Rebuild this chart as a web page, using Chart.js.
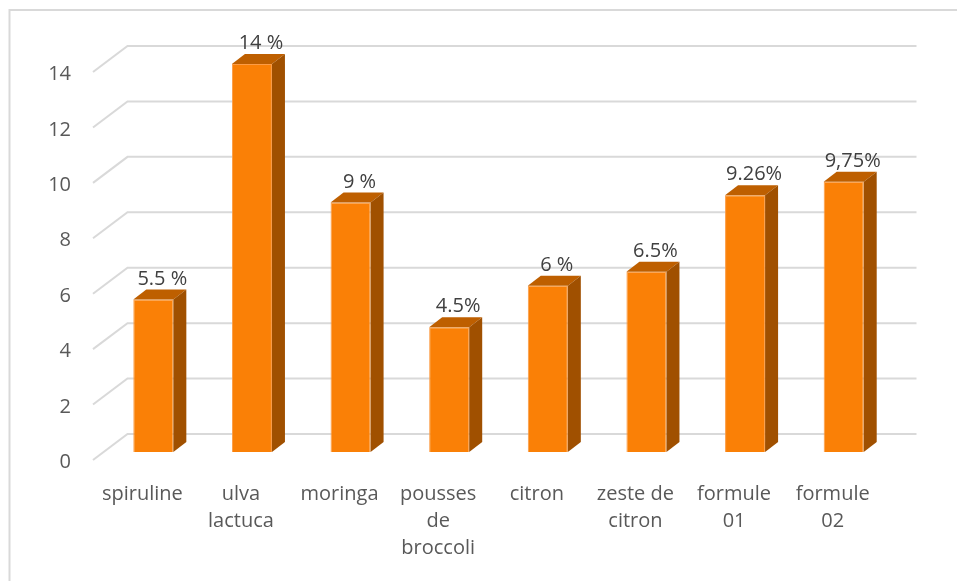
<!DOCTYPE html>
<html>
<head>
<meta charset="utf-8">
<script src="https://cdn.jsdelivr.net/npm/chart.js@4/dist/chart.umd.min.js"></script>
<style>
  html, body { margin: 0; padding: 0; background: #ffffff; }
  #wrap { width: 957px; height: 581px; position: relative; }
</style>
</head>
<body>
<div id="wrap"><canvas id="c" width="957" height="581"></canvas></div>
<script>
// Categories (multi-line labels), values and the value captions shown above each bar
const categories = [
  'spiruline',
  ['ulva', 'lactuca'],
  'moringa',
  ['pousses', 'de', 'broccoli'],
  'citron',
  ['zeste de', 'citron'],
  ['formule', '01'],
  ['formule', '02']
];
const values = [5.5, 14, 9, 4.5, 6, 6.5, 9.26, 9.75];
const valueLabels = ['5.5 %', '14 %', '9 %', '4.5%', '6 %', '6.5%', '9.26%', '9,75%'];
const yMin = 0;
const yMax = 14;
const yStep = 2;

// Pseudo-3D geometry, relative to the bars' front plane
const FRONT = { dx: -11, dy: 8 };      // front edge of the floor (axis labels plane)
const BACK = { dx: 23.5, dy: -18 };    // back wall (gridlines)
const DEPTH = { dx: 13, dy: -10 };     // bar depth

const COLORS = {
  front: '#FA8006',
  top: '#BE5F00',
  side: '#A05000',
  grid: '#D9D9D9',
  tick: '#595959',
  value: '#404040',
  frame: '#D9D9D9'
};
const FONT = "'Open Sans', 'Noto Sans', sans-serif";

const frame3d = {
  id: 'frame3d',
  beforeDraw(chart) {
    const ctx = chart.ctx;
    ctx.save();
    ctx.fillStyle = '#ffffff';
    ctx.fillRect(0, 0, chart.width, chart.height);
    ctx.strokeStyle = COLORS.frame;
    ctx.lineWidth = 2;
    ctx.strokeRect(9.5, 10, chart.width + 20, chart.height + 20);
    ctx.restore();
  },
  beforeDatasetsDraw(chart) {
    const { ctx, chartArea } = chart;
    const y = chart.scales.y;
    ctx.save();
    ctx.strokeStyle = COLORS.grid;
    ctx.lineWidth = 2;
    y.ticks.forEach(t => {
      const py = y.getPixelForValue(t.value);
      ctx.beginPath();
      ctx.moveTo(chartArea.left + FRONT.dx, py + FRONT.dy);
      ctx.lineTo(chartArea.left + BACK.dx, py + BACK.dy);
      ctx.lineTo(chartArea.right + BACK.dx, py + BACK.dy);
      ctx.stroke();
    });
    ctx.restore();
  },
  afterDatasetsDraw(chart) {
    const ctx = chart.ctx;
    const meta = chart.getDatasetMeta(0);
    ctx.save();
    meta.data.forEach((bar, i) => {
      const p = bar.getProps(['x', 'y', 'base', 'width'], true);
      const l = p.x - p.width / 2;
      const r = p.x + p.width / 2;
      // top face
      ctx.fillStyle = COLORS.top;
      ctx.beginPath();
      ctx.moveTo(l, p.y);
      ctx.lineTo(r, p.y);
      ctx.lineTo(r + DEPTH.dx, p.y + DEPTH.dy);
      ctx.lineTo(l + DEPTH.dx, p.y + DEPTH.dy);
      ctx.closePath();
      ctx.fill();
      // right side face
      ctx.fillStyle = COLORS.side;
      ctx.beginPath();
      ctx.moveTo(r, p.y);
      ctx.lineTo(r + DEPTH.dx, p.y + DEPTH.dy);
      ctx.lineTo(r + DEPTH.dx, p.base + DEPTH.dy);
      ctx.lineTo(r, p.base);
      ctx.closePath();
      ctx.fill();
      // value caption
      ctx.fillStyle = COLORS.value;
      ctx.font = '20px ' + FONT;
      ctx.textAlign = 'center';
      ctx.textBaseline = 'alphabetic';
      ctx.fillText(valueLabels[i], p.x + 9, p.y - 15);
    });
    ctx.restore();
  }
};

new Chart(document.getElementById('c'), {
  type: 'bar',
  data: {
    labels: categories,
    datasets: [{
      data: values,
      backgroundColor: COLORS.front,
      borderColor: '#FC9C45',
      borderWidth: 1,
      barPercentage: 0.406,
      categoryPercentage: 1
    }]
  },
  options: {
    responsive: false,
    animation: false,
    devicePixelRatio: 1,
    layout: { padding: { left: 10, right: 64, top: 64, bottom: 9 } },
    plugins: { legend: { display: false }, tooltip: { enabled: false } },
    scales: {
      x: {
        grid: { display: false, drawTicks: false },
        border: { display: false },
        ticks: {
          color: COLORS.tick,
          font: { family: FONT, size: 20, lineHeight: 1.35 },
          labelOffset: FRONT.dx,
          padding: 29,
          maxRotation: 0,
          minRotation: 0,
          autoSkip: false
        },
        afterFit(scale) { scale.height = 120; }
      },
      y: {
        min: yMin,
        max: yMax,
        grid: { display: false, drawTicks: false },
        border: { display: false },
        ticks: {
          stepSize: yStep,
          color: COLORS.tick,
          font: { family: FONT, size: 20 },
          labelOffset: 10.5,
          padding: 33
        },
        afterFit(scale) { scale.width = 94; }
      }
    }
  },
  plugins: [frame3d]
});
</script>
</body>
</html>
